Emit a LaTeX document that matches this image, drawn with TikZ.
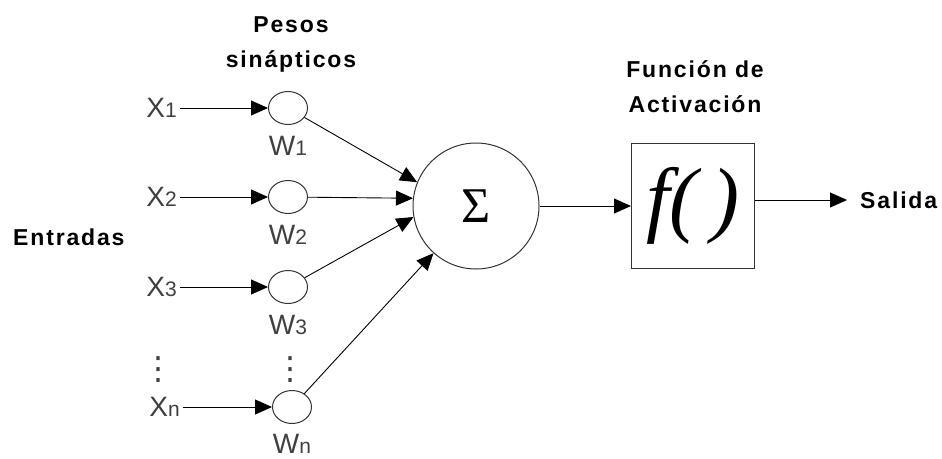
\documentclass[tikz,border=0pt]{standalone}
\usepackage{fontspec}
\setmainfont{Liberation Sans}
\newfontfamily\boldlbl[LetterSpace=8]{Liberation Sans}
\newfontfamily\serifsym{Liberation Serif}
\newfontfamily\symfont{DejaVu Sans}
\usetikzlibrary{positioning, shapes.geometric, arrows.meta}
\tikzset{>={Triangle[length=17pt,width=15pt]}}
\newcommand{\lowidx}[1]{{\fontsize{21}{21}\selectfont #1}}

\begin{document}
\begin{tikzpicture}[x=1pt, y=-1pt,
    inp/.style={font=\fontsize{28}{28}\selectfont, text=black!75, inner sep=0pt},
    wgt/.style={draw=black!80, line width=1pt, ellipse, minimum width=39pt, minimum height=33pt, inner sep=0pt},
    title/.style={font=\boldlbl\bfseries\fontsize{23}{35}\selectfont, align=center, inner sep=0pt},
    conn/.style={->, line width=0.9pt}]
    \useasboundingbox (0,0) rectangle (942,458);

    % titulos
    \node[title] (pesos) at (291,44) {Pesos\\sinápticos};
    \node[title] (funcion) at (695,87) {Función de\\Activación};
    \node[title, anchor=west] (entradas) at (13,237) {Entradas};

    % pesos
    \node[wgt] (w1) at (288,108) {};
    \node[wgt] (w2) at (288,197) {};
    \node[wgt] (w3) at (288,287) {};
    \node[wgt] (wn) at (292,407) {};
    \node[inp, below=11pt of w1] (lw1) {W\lowidx{1}};
    \node[inp, below=11pt of w2] (lw2) {W\lowidx{2}};
    \node[inp, below=11pt of w3] (lw3) {W\lowidx{3}};
    \node[inp, below=10pt of wn] (lwn) {W\lowidx{n}};

    % entradas
    \node[inp, anchor=east] (x1) at (177,108) {X\lowidx{1}};
    \node[inp, anchor=east] (x2) at (177,197) {X\lowidx{2}};
    \node[inp, anchor=east] (x3) at (177,287) {X\lowidx{3}};
    \node[inp, anchor=east] (xn) at (180,407) {X\lowidx{n}};
    \node[inp, font=\symfont\fontsize{32}{32}\selectfont] (dx) at (158,370) {⋮};
    \node[inp, font=\symfont\fontsize{32}{32}\selectfont] (dw) at (290,370) {⋮};

    % suma y activacion
    \node[draw=black!80, line width=1pt, circle, minimum size=126pt, inner sep=0pt] (sum) at (476,206)
        {\serifsym\fontsize{50}{50}\selectfont Σ};
    \node[draw=black!80, line width=1pt, minimum width=123pt, minimum height=125pt, inner sep=0pt] (act) at (693,206)
        {\serifsym\itshape\fontsize{84}{84}\selectfont f(\hspace{14pt})};
    \node[title, anchor=west] (salida) at (860,200) {Salida};

    \foreach \i in {1,2,3,n}
        \draw[conn, shorten <=3pt] (x\i.east |- w\i) -- (w\i);
    \draw[conn] (w1) -- (sum.158);
    \draw[conn] (w2) -- (sum.173);
    \draw[conn] (w3) -- (sum.190);
    \draw[conn] (wn) -- (sum.228);
    \draw[conn] (sum) -- (act);
    \draw[conn] (act.east |- salida.west) -- ([xshift=-13pt]salida.west);
\end{tikzpicture}
\end{document}
